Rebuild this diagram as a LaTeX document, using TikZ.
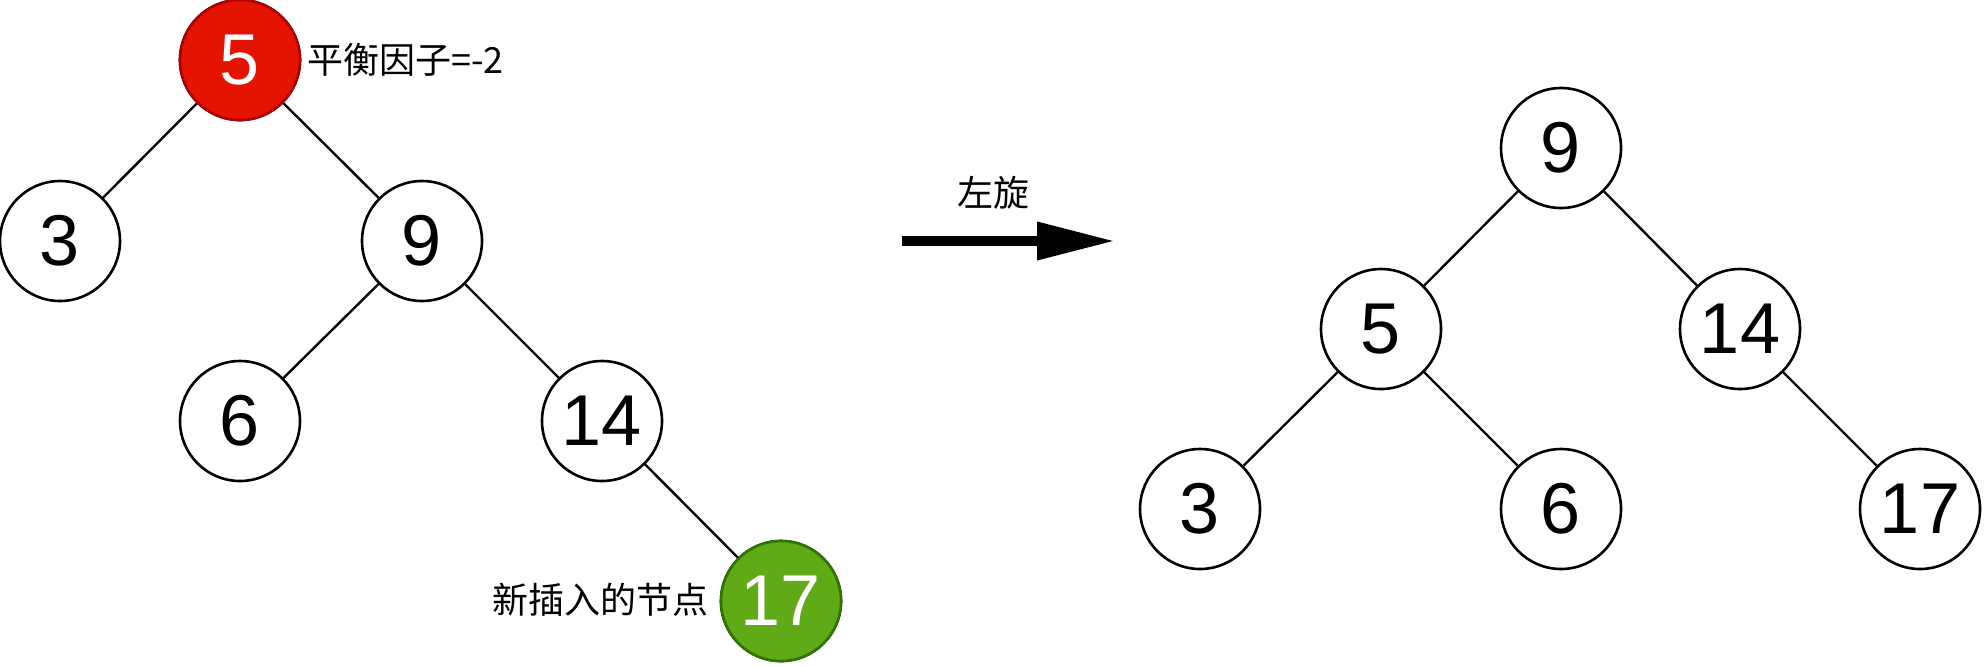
\documentclass[tikz,border=0pt]{standalone}
\usepackage{fontspec}
\setmainfont{Liberation Sans}
\newfontfamily\cjk{Noto Sans CJK SC}
\usetikzlibrary{arrows.meta}
\definecolor{redfill}{HTML}{E51400}
\definecolor{redline}{HTML}{B20000}
\definecolor{greenfill}{HTML}{60A917}
\definecolor{greenline}{HTML}{2D7600}

\begin{document}
\begin{tikzpicture}[x=0.5pt,y=-0.5pt,line width=1.2pt]
    \tikzstyle{vertex}=[circle,draw=black,fill=white,line width=1.3pt,minimum size=60pt,inner sep=0pt,font=\fontsize{36}{40}\selectfont]
    \tikzstyle{note}=[inner sep=0pt,font=\cjk\fontsize{18}{22}\selectfont]
    \useasboundingbox (0,0) rectangle (1986,666);

    % before the rotation
    \foreach \num/\x/\y in {5/240/60, 3/60/241, 9/422/241, 6/240/421, 14/602/421, 17/781/601}
            \node[vertex] (L-\num) at (\x,\y) {\num};

        \node[vertex,fill=redfill,draw=redline,text=white] at (L-5) {5};
        \node[vertex,fill=greenfill,draw=greenline,text=white] at (L-17) {17};

        \foreach \from/\to in {5/3, 5/9, 9/6, 9/14, 14/17}
            \draw (L-\from) -- (L-\to);

    \node[note,anchor=west] (bf) at (306,60) {平衡因子=-2};
    \node[note,anchor=east] (new) at (710,600) {新插入的节点};

    % the rotation
    \coordinate (rs) at (902,241);
    \coordinate (re) at (1115,241);
    \draw[line width=5pt,-{Triangle[length=39pt,width=18pt]}] (rs) -- (re);
    \node[note] (rot) at (993,193) {左旋};

    % after the rotation
    \foreach \num/\x/\y in {9/1561/148, 5/1381/329, 14/1740/329, 3/1200/509, 6/1561/509, 17/1920/509}
            \node[vertex] (R-\num) at (\x,\y) {\num};

        \foreach \from/\to in {9/5, 9/14, 5/3, 5/6, 14/17}
            \draw (R-\from) -- (R-\to);
\end{tikzpicture}
\end{document}
